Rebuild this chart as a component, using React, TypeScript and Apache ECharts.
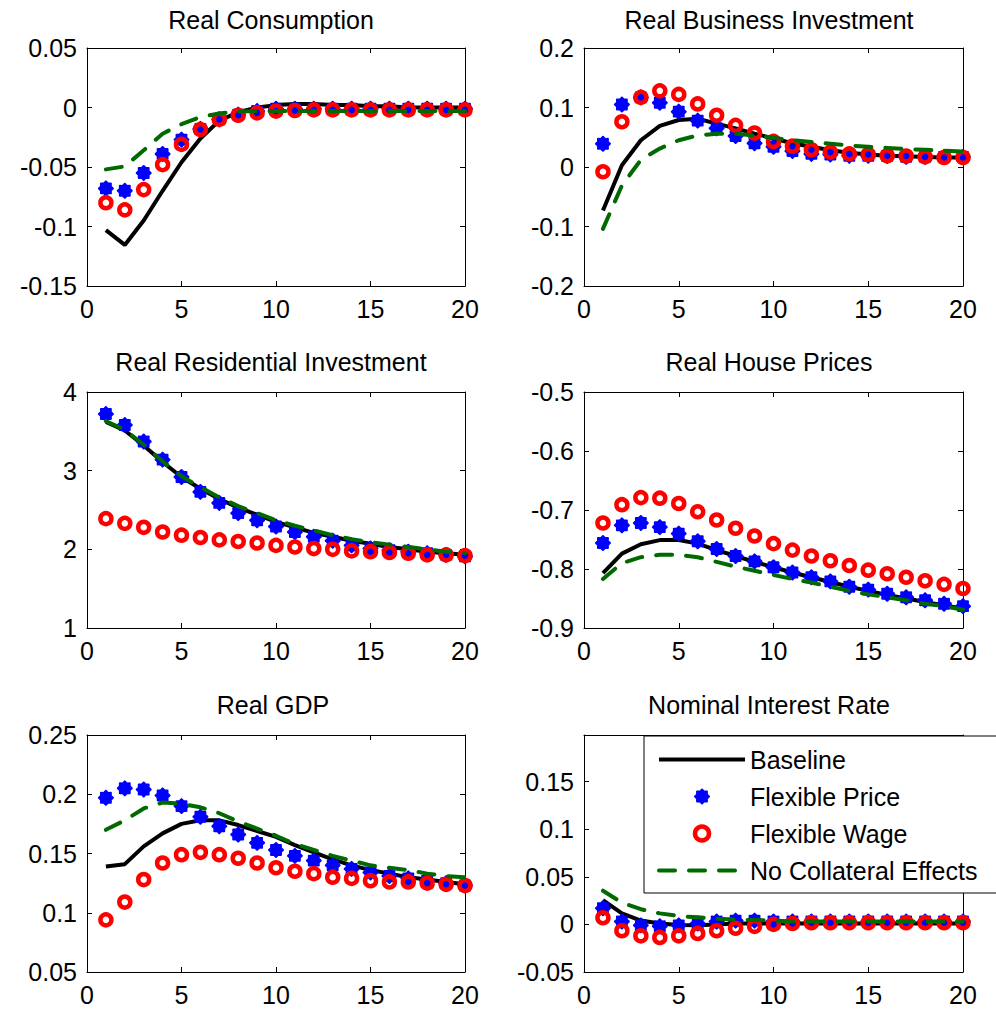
import React, { useEffect, useRef } from 'react';
import * as echarts from 'echarts';

const periods = [1, 2, 3, 4, 5, 6, 7, 8, 9, 10, 11, 12, 13, 14, 15, 16, 17, 18, 19, 20];
const seriesNames = ['Baseline', 'Flexible Price', 'Flexible Wage', 'No Collateral Effects'];
const panelTitles = ['Real Consumption', 'Real Business Investment', 'Real Residential Investment', 'Real House Prices', 'Real GDP', 'Nominal Interest Rate'];
const xTicks = { min: 0, max: 20, interval: 5 };
const xOriginLabel = '0';

// Real Consumption
const consBase = [-0.103, -0.1155, -0.095, -0.070, -0.046, -0.026, -0.011, -0.004, 0.000, 0.002, 0.003, 0.003, 0.002, 0.002, 0.001, 0.001, 0.000, 0.000, 0.000, 0.000];
const consFlexPrice = [-0.068, -0.070, -0.055, -0.039, -0.027, -0.018, -0.010, -0.006, -0.003, -0.001, -0.001, -0.001, -0.001, -0.001, -0.001, -0.001, -0.001, -0.001, -0.001, -0.001];
const consFlexWage = [-0.080, -0.086, -0.069, -0.048, -0.031, -0.0185, -0.010, -0.0065, -0.0045, -0.003, -0.0025, -0.002, -0.002, -0.002, -0.002, -0.002, -0.002, -0.002, -0.002, -0.002];
const consNoColl = [-0.052, -0.0495, -0.036, -0.022, -0.014, -0.008, -0.005, -0.0035, -0.003, -0.003, -0.003, -0.003, -0.003, -0.003, -0.003, -0.003, -0.003, -0.003, -0.003, -0.003];

// Real Business Investment
const bizBase = [-0.073, 0.003, 0.045, 0.069, 0.079, 0.081, 0.073, 0.065, 0.056, 0.048, 0.040, 0.034, 0.028, 0.024, 0.021, 0.019, 0.018, 0.017, 0.016, 0.016];
const bizFlexPrice = [0.039, 0.105, 0.117, 0.108, 0.093, 0.078, 0.065, 0.052, 0.040, 0.034, 0.027, 0.022, 0.021, 0.019, 0.019, 0.0185, 0.017, 0.017, 0.017, 0.017];
const bizFlexWage = [-0.008, 0.076, 0.117, 0.128, 0.122, 0.106, 0.087, 0.070, 0.057, 0.043, 0.035, 0.029, 0.025, 0.022, 0.021, 0.019, 0.0185, 0.017, 0.016, 0.016];
const bizNoColl = [-0.104, -0.031, 0.012, 0.031, 0.045, 0.053, 0.056, 0.056, 0.053, 0.049, 0.045, 0.042, 0.039, 0.036, 0.034, 0.032, 0.030, 0.029, 0.0275, 0.026];

// Real Residential Investment
const resBase = [3.62, 3.51, 3.32, 3.11, 2.92, 2.77, 2.64, 2.53, 2.44, 2.35, 2.28, 2.21, 2.16, 2.11, 2.07, 2.03, 2.00, 1.97, 1.95, 1.93];
const resFlexPrice = [3.72, 3.58, 3.37, 3.14, 2.92, 2.73, 2.59, 2.46, 2.37, 2.29, 2.22, 2.16, 2.11, 2.05, 2.01, 1.99, 1.97, 1.95, 1.93, 1.91];
const resFlexWage = [2.39, 2.33, 2.28, 2.22, 2.18, 2.15, 2.12, 2.10, 2.08, 2.05, 2.03, 2.01, 2.00, 1.98, 1.97, 1.96, 1.95, 1.93, 1.93, 1.92];
const resNoColl = [3.63, 3.52, 3.33, 3.12, 2.93, 2.79, 2.66, 2.55, 2.46, 2.37, 2.30, 2.24, 2.18, 2.13, 2.09, 2.06, 2.03, 2.00, 1.97, 1.95];

// Real House Prices
const houseBase = [-0.807, -0.774, -0.758, -0.751, -0.751, -0.757, -0.768, -0.778, -0.788, -0.797, -0.806, -0.814, -0.822, -0.830, -0.837, -0.844, -0.850, -0.856, -0.862, -0.867];
const houseFlexPrice = [-0.756, -0.726, -0.722, -0.729, -0.740, -0.753, -0.766, -0.778, -0.787, -0.797, -0.806, -0.814, -0.821, -0.830, -0.835, -0.842, -0.848, -0.853, -0.859, -0.863];
const houseFlexWage = [-0.722, -0.691, -0.679, -0.680, -0.689, -0.703, -0.717, -0.731, -0.744, -0.757, -0.768, -0.778, -0.786, -0.794, -0.802, -0.808, -0.814, -0.820, -0.826, -0.833];
const houseNoColl = [-0.817, -0.790, -0.780, -0.776, -0.776, -0.780, -0.788, -0.796, -0.803, -0.810, -0.817, -0.823, -0.830, -0.837, -0.843, -0.848, -0.853, -0.859, -0.863, -0.869];

// Real GDP
const gdpBase = [0.139, 0.141, 0.156, 0.167, 0.175, 0.178, 0.178, 0.174, 0.169, 0.164, 0.157, 0.151, 0.145, 0.140, 0.136, 0.133, 0.130, 0.128, 0.126, 0.124];
const gdpFlexPrice = [0.197, 0.205, 0.204, 0.199, 0.190, 0.181, 0.173, 0.166, 0.159, 0.153, 0.148, 0.144, 0.140, 0.137, 0.134, 0.131, 0.129, 0.127, 0.125, 0.123];
const gdpFlexWage = [0.094, 0.109, 0.128, 0.142, 0.149, 0.151, 0.149, 0.146, 0.142, 0.138, 0.135, 0.133, 0.130, 0.129, 0.127, 0.126, 0.126, 0.125, 0.124, 0.123];
const gdpNoColl = [0.170, 0.178, 0.188, 0.193, 0.192, 0.189, 0.184, 0.177, 0.171, 0.165, 0.158, 0.153, 0.148, 0.144, 0.140, 0.138, 0.136, 0.133, 0.131, 0.130];

// Nominal Interest Rate
const rateBase = [0.0256, 0.0116, 0.004, 0.001, -0.0007, -0.001, 0.000, 0.001, 0.001, 0.001, 0.001, 0.001, 0.001, 0.001, 0.001, 0.001, 0.001, 0.001, 0.001, 0.001];
const rateFlexPrice = [0.017, 0.003, -0.001, -0.002, -0.001, 0.001, 0.003, 0.004, 0.004, 0.003, 0.003, 0.003, 0.003, 0.003, 0.003, 0.003, 0.003, 0.003, 0.003, 0.003];
const rateFlexWage = [0.007, -0.0067, -0.012, -0.0137, -0.012, -0.0095, -0.0067, -0.004, -0.002, 0.000, 0.001, 0.0018, 0.0018, 0.0018, 0.0018, 0.0018, 0.0018, 0.0018, 0.0018, 0.0018];
const rateNoColl = [0.0354, 0.0228, 0.016, 0.0116, 0.0088, 0.0074, 0.006, 0.005, 0.0046, 0.004, 0.003, 0.003, 0.003, 0.003, 0.003, 0.003, 0.003, 0.003, 0.003, 0.003];

const panelData = [
  [consBase, consFlexPrice, consFlexWage, consNoColl],
  [bizBase, bizFlexPrice, bizFlexWage, bizNoColl],
  [resBase, resFlexPrice, resFlexWage, resNoColl],
  [houseBase, houseFlexPrice, houseFlexWage, houseNoColl],
  [gdpBase, gdpFlexPrice, gdpFlexWage, gdpNoColl],
  [rateBase, rateFlexPrice, rateFlexWage, rateNoColl],
];

const yScales = [
  { min: -0.15, max: 0.05, interval: 0.05 },
  { min: -0.2, max: 0.2, interval: 0.1 },
  { min: 1, max: 4, interval: 1 },
  { min: -0.9, max: -0.5, interval: 0.1 },
  { min: 0.05, max: 0.25, interval: 0.05 },
  { min: -0.05, max: 0.199, interval: 0.05 },
];

// layout (pixels)
const gridBoxes = [
  { left: 87, top: 48, width: 378, height: 238 },
  { left: 584, top: 48, width: 379, height: 238 },
  { left: 87, top: 392, width: 378, height: 236 },
  { left: 584, top: 392, width: 379, height: 236 },
  { left: 87, top: 735, width: 378, height: 237 },
  { left: 584, top: 735, width: 379, height: 237 },
];
const titlePos = [
  { x: 271, y: 7 },
  { x: 769, y: 7 },
  { x: 271, y: 349 },
  { x: 769, y: 349 },
  { x: 273, y: 692 },
  { x: 769, y: 692 },
];

const FONT = "'Liberation Sans', Arial, Helvetica, sans-serif";
const FS = 25;
const BLUE = '#0000ff';
const RED = '#ff0000';
const GREEN = '#006a00';
const CANVAS_W = 1060;
const X_LABEL_OFFSET = 23;

function starSymbol(): string {
  const pts: string[] = [];
  for (let k = 0; k < 16; k++) {
    const a = (k * Math.PI) / 8;
    const r = k % 2 === 0 ? 50 : 38;
    pts.push((50 + r * Math.cos(a)).toFixed(2) + ',' + (50 - r * Math.sin(a)).toFixed(2));
  }
  return 'path://M' + pts.join('L') + 'Z';
}

export default function App() {
  const ref = useRef<HTMLDivElement>(null);

  useEffect(() => {
    if (!ref.current) return;
    const chart = echarts.init(ref.current, undefined, { renderer: 'svg' });
    const star = starSymbol();

    const xAxes: any[] = [];
    const yAxes: any[] = [];
    const series: any[] = [];
    const titles: any[] = [];

    gridBoxes.forEach((g, i) => {
      const common = {
        type: 'value',
        gridIndex: i,
        axisLine: { show: true, onZero: false, lineStyle: { color: '#000', width: 1 } },
        axisTick: { show: true, inside: true, length: 5, lineStyle: { color: '#000', width: 1 } },
        splitLine: { show: false },
      };
      xAxes.push({
        ...common,
        position: 'bottom',
        min: xTicks.min,
        max: xTicks.max,
        interval: xTicks.interval,
        axisLabel: { color: '#000', fontSize: FS, fontFamily: FONT, margin: 14, lineHeight: 18, showMinLabel: false, showMaxLabel: true },
      });
      xAxes.push({
        ...common,
        position: 'top',
        min: xTicks.min,
        max: xTicks.max,
        interval: xTicks.interval,
        axisLabel: { show: false },
      });
      yAxes.push({
        ...common,
        position: 'left',
        min: yScales[i].min,
        max: yScales[i].max,
        interval: yScales[i].interval,
        axisLabel: { color: '#000', fontSize: FS, fontFamily: FONT, margin: 10, lineHeight: 18, showMinLabel: true, showMaxLabel: i === 5 ? false : true },
      });
      yAxes.push({
        ...common,
        position: 'right',
        min: yScales[i].min,
        max: yScales[i].max,
        interval: yScales[i].interval,
        axisLabel: { show: false },
      });

      titles.push({
        text: panelTitles[i],
        left: titlePos[i].x,
        top: titlePos[i].y,
        textAlign: 'center',
        padding: 0,
        textStyle: { color: '#000', fontSize: FS, fontWeight: 'normal', fontFamily: FONT },
      });

      const d = panelData[i];
      const pairs = (arr: number[]) => periods.map((p, k) => [p, arr[k]]);
      series.push({
        name: seriesNames[0], type: 'line', xAxisIndex: 2 * i, yAxisIndex: 2 * i, data: pairs(d[0]),
        symbol: 'none', showSymbol: false, lineStyle: { color: '#000', width: 4 }, itemStyle: { color: '#000' }, z: 2,
      });
      series.push({
        name: seriesNames[1], type: 'scatter', xAxisIndex: 2 * i, yAxisIndex: 2 * i, data: pairs(d[1]),
        symbol: star, symbolSize: 14,
        itemStyle: { color: BLUE, borderColor: BLUE, borderWidth: 2, borderJoin: 'round', opacity: 1 }, z: 3,
      });
      series.push({
        name: seriesNames[2], type: 'scatter', xAxisIndex: 2 * i, yAxisIndex: 2 * i, data: pairs(d[2]),
        symbol: 'circle', symbolSize: 11,
        itemStyle: { color: 'rgba(0,0,0,0)', borderColor: RED, borderWidth: 4.5, opacity: 1 }, z: 4,
      });
      series.push({
        name: seriesNames[3], type: 'line', xAxisIndex: 2 * i, yAxisIndex: 2 * i, data: pairs(d[3]),
        symbol: 'none', showSymbol: false, lineStyle: { color: GREEN, width: 4, type: [16, 14], cap: 'round' },
        itemStyle: { color: GREEN }, z: 5,
      });
    });

    const hidden = { color: 'rgba(0,0,0,0)', borderColor: 'rgba(0,0,0,0)', borderWidth: 0, opacity: 0 };

    chart.setOption({
      animation: false,
      backgroundColor: '#fff',
      title: titles,
      grid: gridBoxes.map((g) => ({ ...g, containLabel: false })),
      xAxis: xAxes,
      yAxis: yAxes,
      legend: {
        orient: 'vertical',
        left: 644,
        top: 736,
        z: 10,
        backgroundColor: '#fff',
        borderColor: '#000',
        borderWidth: 1,
        borderRadius: 0,
        padding: [11, 40, 10, 13],
        itemWidth: 86,
        itemHeight: 14,
        itemGap: 12,
        selectedMode: false,
        textStyle: { color: '#000', fontSize: FS, fontFamily: FONT, lineHeight: 24 },
        lineStyle: { width: 4 },
        data: [
          { name: seriesNames[0], itemStyle: hidden, lineStyle: { color: '#000', width: 4, opacity: 1 } },
          { name: seriesNames[1], itemStyle: { color: BLUE, borderColor: BLUE, borderWidth: 2 } },
          { name: seriesNames[2], itemStyle: { color: 'rgba(0,0,0,0)', borderColor: RED, borderWidth: 4.5 } },
          { name: seriesNames[3], itemStyle: hidden, lineStyle: { color: GREEN, width: 4, type: [16, 14], opacity: 1 } },
        ],
      },
      series,
    });

    // origin tick labels of the x axes, placed through each grid's own scales
    const originLabels: any[] = [];
    gridBoxes.forEach((g, i) => {
      const pt = chart.convertToPixel({ xAxisIndex: 2 * i, yAxisIndex: 2 * i } as any, [xTicks.min, yScales[i].min]) as any;
      if (!pt) return;
      originLabels.push({
        type: 'text',
        x: pt[0],
        y: pt[1] + X_LABEL_OFFSET,
        z: 3,
        style: {
          text: xOriginLabel,
          fill: '#000',
          font: `${FS}px ${FONT}`,
          textAlign: 'center',
          textVerticalAlign: 'middle',
        },
      });
    });
    chart.setOption({ graphic: originLabels });

    return () => chart.dispose();
  }, []);

  return (
    <div style={{ position: 'absolute', left: 0, top: 0, width: 996, height: 1011, overflow: 'hidden', background: '#fff' }}>
      <div ref={ref} style={{ width: CANVAS_W, height: 1011 }} />
    </div>
  );
}
